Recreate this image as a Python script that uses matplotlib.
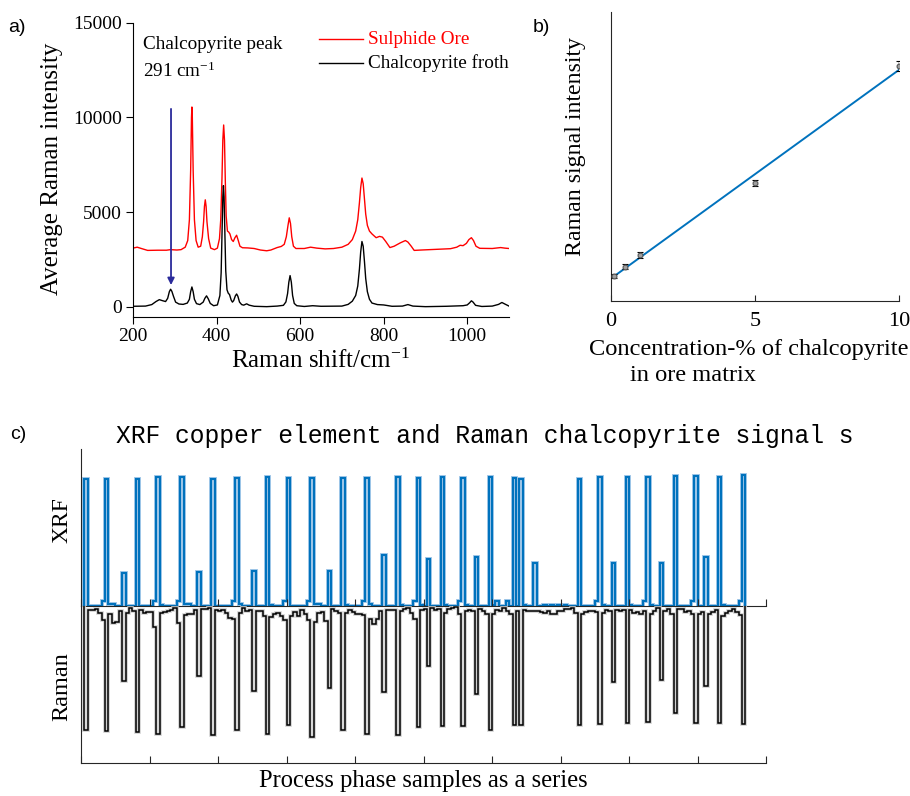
import matplotlib
matplotlib.use('Agg')
import matplotlib.pyplot as plt
import numpy as np

plt.rcParams['font.family'] = 'Liberation Serif'
plt.rcParams['mathtext.fontset'] = 'custom'
plt.rcParams['mathtext.rm'] = 'Liberation Serif'
plt.rcParams['mathtext.it'] = 'Liberation Serif:italic'

# ---- panel a: averaged Raman spectra
shift_ore = [200, 210, 220, 235, 260, 280, 290, 305, 315, 325, 331, 335, 338, 340, 341, 342, 344, 347,
             351, 356, 362, 366, 369, 371, 373, 375, 377, 381, 386, 395, 402, 407, 410, 413, 415, 417,
             419, 421, 423, 426, 429, 432, 436, 440, 444, 448, 452, 456, 462, 475, 490, 505, 520, 530,
             545, 555, 562, 567, 571, 574, 577, 580, 584, 590, 610, 625, 640, 660, 680, 700, 715, 725,
             733, 738, 742, 745, 748, 751, 754, 757, 761, 766, 772, 782, 790, 797, 805, 815, 825, 840,
             852, 858, 866, 873, 890, 930, 960, 975, 983, 990, 998, 1004, 1010, 1015, 1021, 1030, 1060,
             1080, 1090, 1100]
int_ore = [3100, 3150, 3080, 2980, 2990, 2990, 3020, 3000, 3020, 3150, 3500, 4600, 7200, 10000, 10550,
           10000, 7200, 4600, 3500, 3150, 3200, 3700, 4500, 5300, 5650, 5300, 4500, 3600, 3100, 3020,
           3100, 3600, 4600, 6800, 8800, 9600, 8800, 6600, 4800, 4000, 3950, 3850, 3550, 3450, 3650,
           3780, 3500, 3200, 3120, 3110, 3080, 3000, 2960, 3000, 3130, 3190, 3300, 3700, 4300, 4700,
           4400, 3700, 3200, 3080, 3080, 3150, 3100, 3060, 3080, 3150, 3300, 3550, 4000, 4600, 5500,
           6300, 6800, 6500, 5700, 4900, 4300, 4000, 3850, 3650, 3720, 3680, 3450, 3130, 3200, 3380,
           3500, 3420, 3200, 2980, 3000, 3040, 3070, 3150, 3250, 3230, 3350, 3550, 3650, 3500, 3200,
           3090, 3080, 3130, 3100, 3080]

shift_froth = [200, 230, 245, 255, 263, 270, 278, 283, 287, 290, 293, 297, 302, 310, 320, 330, 335, 338,
               341, 344, 347, 352, 360, 368, 372, 376, 380, 385, 393, 402, 408, 411, 413, 415, 416.5,
               418, 420, 422, 425, 428, 431, 435, 438, 441, 445, 448, 451, 455, 460, 465, 472, 478, 490,
               520, 545, 560, 566, 570, 573, 576, 579, 582, 586, 592, 610, 630, 650, 700, 715, 725, 733,
               738, 742, 745, 748, 751, 754, 757, 761, 766, 772, 785, 800, 820, 845, 858, 870, 900, 950,
               990, 1000, 1006, 1010, 1014, 1020, 1035, 1060, 1075, 1083, 1090, 1100]
int_froth = [30, 40, 120, 280, 380, 330, 280, 450, 800, 930, 820, 550, 250, 150, 130, 200, 400, 800,
             1050, 800, 400, 170, 120, 250, 450, 580, 430, 180, 60, 100, 600, 1800, 3800, 5800, 6400,
             5800, 3800, 1900, 900, 720, 650, 360, 250, 330, 580, 680, 560, 250, 120, 90, 160, 90, 30,
             10, 40, 80, 260, 700, 1300, 1650, 1300, 600, 180, 60, 20, 60, 30, 40, 130, 300, 600, 1100,
             2000, 2900, 3450, 3200, 2400, 1500, 800, 400, 200, 120, 100, 30, 40, 120, 40, 10, 30, 60,
             100, 220, 320, 250, 80, 20, 40, 130, 230, 150, 40]

# ---- panel b: calibration points
conc = [0.1, 0.5, 1, 5, 10]
signal = [0.087, 0.119, 0.158, 0.408, 0.815]
signal_err = [0.008, 0.008, 0.010, 0.010, 0.018]

# ---- panel c: process samples 1..193
xrf = [0.808, 0, 0, 0, 0, 0.03, 0.806, 0.008, 0.008, 0,
       0, 0.21, 0, 0, 0, 0.806, 0, 0, 0, 0,
       0.03, 0.818, 0.005, 0, 0, 0, 0, 0.03, 0.818, 0.008,
       0.008, 0, 0, 0.215, 0, 0, 0, 0.81, 0, 0,
       0, 0, 0, 0.03, 0.815, 0.008, 0, 0, 0, 0.22,
       0, 0, 0, 0.818, 0.005, 0, 0, 0, 0.03, 0.812,
       0, 0, 0, 0, 0, 0.03, 0.815, 0.008, 0.008, 0,
       0, 0.22, 0, 0, 0, 0.815, 0.005, 0, 0, 0,
       0, 0.03, 0.812, 0.008, 0, 0, 0, 0.32, 0, 0,
       0, 0.822, 0.005, 0, 0, 0, 0.03, 0.815, 0.005, 0,
       0.30, 0, 0, 0, 0.822, 0.005, 0, 0, 0, 0.03,
       0.815, 0.005, 0, 0, 0.31, 0, 0, 0, 0.823, 0.005,
       0.03, 0, 0, 0.03, 0, 0.815, 0, 0.81, 0.005, 0,
       0, 0.27, 0, 0, 0.005, 0, 0.005, 0, 0.005, 0,
       0.005, 0, 0, 0, 0.81, 0, 0, 0, 0, 0.03,
       0.818, 0.005, 0, 0, 0.27, 0, 0, 0, 0.82, 0.005,
       0, 0, 0, 0.03, 0.822, 0.005, 0, 0, 0.27, 0,
       0, 0, 0.83, 0, 0, 0, 0, 0.03, 0.825, 0,
       0, 0.31, 0, 0, 0, 0.82, 0.005, 0, 0, 0,
       0, 0.03, 0.836]
raman = [0.79, 0.030, 0.030, 0.021, 0.047, 0.089, 0.794, 0.051, 0.110, 0.102,
         0.038, 0.48, 0.047, 0.015, 0.034, 0.805, 0.030, 0.047, 0.042, 0.042,
         0.136, 0.815, 0.047, 0.042, 0.038, 0.030, 0.015, 0.110, 0.77, 0.059,
         0.055, 0.051, 0.030, 0.45, 0.021, 0.021, 0.015, 0.82, 0.030, 0.038,
         0.030, 0.047, 0.079, 0.085, 0.79, 0.047, 0.017, 0.034, 0.030, 0.54,
         0.034, 0.038, 0.064, 0.815, 0.072, 0.055, 0.047, 0.068, 0.093, 0.758,
         0.068, 0.042, 0.064, 0.030, 0.051, 0.093, 0.832, 0.102, 0.047, 0.042,
         0.098, 0.525, 0.025, 0.034, 0.047, 0.79, 0.047, 0.030, 0.042, 0.055,
         0.055, 0.059, 0.815, 0.085, 0.115, 0.085, 0.034, 0.55, 0.030, 0.030,
         0.030, 0.823, 0.038, 0.025, 0.017, 0.047, 0.085, 0.77, 0.030, 0.025,
         0.386, 0.017, 0.030, 0.025, 0.766, 0.047, 0.021, 0.017, 0.009, 0.055,
         0.766, 0.038, 0.030, 0.034, 0.56, 0.025, 0.034, 0.051, 0.79, 0.055,
         0.030, 0.038, 0.017, 0.034, 0.051, 0.76, 0.038, 0.76, 0.030, 0.034,
         0.038, 0.034, 0.034, 0.042, 0.047, 0.038, 0.051, 0.051, 0.038, 0.034,
         0.025, 0.021, 0.017, 0.047, 0.76, 0.051, 0.042, 0.038, 0.034, 0.042,
         0.75, 0.047, 0.030, 0.038, 0.488, 0.030, 0.038, 0.030, 0.743, 0.030,
         0.047, 0.042, 0.051, 0.038, 0.739, 0.055, 0.034, 0.013, 0.476, 0.038,
         0.025, 0.051, 0.684, 0.025, 0.021, 0.042, 0.034, 0.051, 0.747, 0.055,
         0.042, 0.51, 0.051, 0.042, 0.030, 0.747, 0.068, 0.047, 0.038, 0.021,
         0.042, 0.059, 0.754]

W, H = 910, 796
fig = plt.figure(figsize=(9.1, 7.96), dpi=100)


def box(left, top, right, bottom):
    # pixel box -> figure fraction
    return [left / W, 1 - bottom / H, (right - left) / W, (bottom - top) / H]


# ---------------- a)
ax = fig.add_axes(box(133, 22.7, 509, 316.7))
ax.plot(shift_ore, int_ore, color='#ff0000', lw=1.0)
ax.plot(shift_froth, int_froth, color='black', lw=1.0)
ax.set_xlim(200, 1100)
ax.set_ylim(-520, 15000)
ax.set_xticks([200, 400, 600, 800, 1000])
ax.set_yticks([0, 5000, 10000, 15000])
for s in ['top', 'right']:
    ax.spines[s].set_visible(False)
ax.tick_params(direction='out', length=5, labelsize=14, pad=3)
ax.annotate('', xy=(291, 1150), xytext=(291, 10450),
            arrowprops=dict(arrowstyle='-|>', color='#2b2b9b', lw=1.3,
                            mutation_scale=10, shrinkA=0, shrinkB=0))
ax.text(224, 13850, 'Chalcopyrite peak', fontsize=13.8, va='center')
ax.text(224, 12450, '291 cm$^{-1}$', fontsize=13.8, va='center')
# legend drawn by hand
ax.plot([0.4947, 0.6117], [0.9435, 0.9435], color='#ff0000', lw=1.0, transform=ax.transAxes)
ax.plot([0.4947, 0.6117], [0.8639, 0.8639], color='black', lw=1.0, transform=ax.transAxes)
ax.text(0.6242, 0.9435, 'Sulphide Ore', color='#ff0000', fontsize=13.8, va='center',
        transform=ax.transAxes)
ax.text(0.6242, 0.8639, 'Chalcopyrite froth', color='black', fontsize=13.8, va='center',
        transform=ax.transAxes)
fig.text(51.7 / W, 1 - 169 / H, 'Average Raman intensity', rotation=90, fontsize=18,
         ha='center', va='center')
fig.text(320 / W, 1 - 361 / H, 'Raman shift/cm$^{-1}$', fontsize=18, ha='center', va='center')
fig.text(8 / W, 1 - 28 / H, 'a)', family='Liberation Sans', fontsize=14, va='center')

# ---------------- b)
axb = fig.add_axes(box(610.7, 12.3, 899, 301))
slope, icpt = np.polyfit(conc, signal, 1)
xfit = np.array([conc[0], conc[-1]])
axb.plot(xfit, slope * xfit + icpt, color='#0072bd', lw=1.4)
axb.errorbar(conc, signal, yerr=signal_err, fmt='o', ms=3.5, mfc='#a0a0a0', mec='#555555',
             mew=0.8, ecolor='black', elinewidth=1.0, capsize=2.5, capthick=1.0, zorder=3)
axb.set_xlim(0, 10)
axb.set_ylim(0, 1)
axb.set_xticks([0, 5, 10])
axb.set_yticks([])
for s in ['top', 'right']:
    axb.spines[s].set_visible(False)
for s in ['left', 'bottom']:
    axb.spines[s].set_color('#262626')
    axb.spines[s].set_linewidth(0.8)
axb.tick_params(direction='in', length=4, labelsize=16, pad=8, color='#262626')
fig.text(575 / W, 1 - 147 / H, 'Raman signal intensity', rotation=90, fontsize=17.2,
         ha='center', va='center')
fig.text(749 / W, 1 - 349 / H, 'Concentration-% of chalcopyrite', fontsize=17.6,
         ha='center', va='center')
fig.text(693 / W, 1 - 375 / H, 'in ore matrix', fontsize=17.6, ha='center', va='center')
fig.text(533 / W, 1 - 28 / H, 'b)', family='Liberation Sans', fontsize=14, va='center')

# ---------------- c)
edges = np.arange(1, len(xrf) + 2)
ax_x = fig.add_axes(box(81, 449, 766, 605.5))
ax_r = fig.add_axes(box(81, 605.5, 766, 763))

ax_x.stairs(xrf, edges, baseline=0, color='#9fc6e8', lw=2.8)
ax_x.stairs(xrf, edges, baseline=0, color='#0072bd', lw=1.5)
ax_x.set_ylim(0, 1)

ax_r.stairs(raman, edges, baseline=0, color='#cfcfcf', lw=2.6)
ax_r.stairs(raman, edges, baseline=0, color='black', lw=1.1)
ax_r.set_ylim(1, 0)

for a in (ax_x, ax_r):
    a.set_xlim(0, 200)
    a.set_xticks(np.arange(0, 201, 20))
    a.set_xticklabels([])
    a.set_yticks([])
    a.patch.set_visible(False)
    for s in ['top', 'right']:
        a.spines[s].set_visible(False)
    for s in ['left', 'bottom']:
        a.spines[s].set_color('#262626')
        a.spines[s].set_linewidth(0.8)
    a.tick_params(direction='in', length=5, color='#262626')

fig.text(484.5 / W, 1 - 436 / H, 'XRF copper element and Raman chalcopyrite signal s',
         family='Liberation Mono', fontsize=17.7, ha='center', va='center')
fig.text(62 / W, 1 - 520 / H, 'XRF', rotation=90, fontsize=17, ha='center', va='center')
fig.text(62 / W, 1 - 687 / H, 'Raman', rotation=90, fontsize=17.5, ha='center', va='center')
fig.text(423 / W, 1 - 781 / H, 'Process phase samples as a series', fontsize=17.7,
         ha='center', va='center')
fig.text(10 / W, 1 - 435 / H, 'c)', family='Liberation Sans', fontsize=14, va='center')

fig.savefig('out.png', dpi=100)
